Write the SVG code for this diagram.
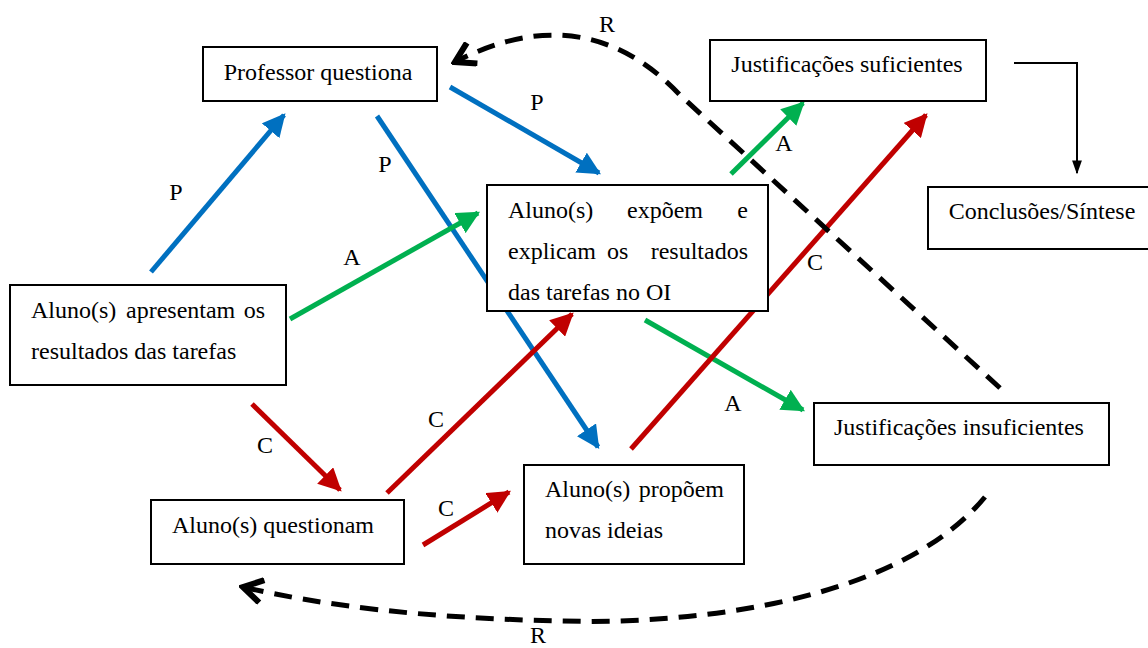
<svg xmlns="http://www.w3.org/2000/svg" width="1148" height="648" viewBox="0 0 1148 648" font-family="'Liberation Serif', 'Times New Roman', serif" font-size="24">
<style>
.box{fill:#fff;stroke:#000;stroke-width:2}
.t{font-family:'Liberation Serif','Times New Roman',serif;font-size:24px;fill:#000}
.b{stroke:#0070C0;stroke-width:5;fill:none}
.g{stroke:#00B050;stroke-width:5;fill:none}
.r{stroke:#C00000;stroke-width:5;fill:none}
.d{stroke:#000;stroke-width:5;fill:none;stroke-dasharray:18 11}
</style>
<defs>
<marker id="mb" viewBox="0 0 10 10" refX="9" refY="5" markerWidth="4.6" markerHeight="4.6" markerUnits="strokeWidth" orient="auto"><path d="M0,0 L10,5 L0,10 Z" fill="#0070C0"/></marker>
<marker id="mg" viewBox="0 0 10 10" refX="9" refY="5" markerWidth="4.6" markerHeight="4.6" markerUnits="strokeWidth" orient="auto"><path d="M0,0 L10,5 L0,10 Z" fill="#00B050"/></marker>
<marker id="mr" viewBox="0 0 10 10" refX="9" refY="5" markerWidth="4.6" markerHeight="4.6" markerUnits="strokeWidth" orient="auto"><path d="M0,0 L10,5 L0,10 Z" fill="#C00000"/></marker>
<marker id="mk" viewBox="0 0 10 10" refX="9" refY="5" markerWidth="7" markerHeight="7" markerUnits="strokeWidth" orient="auto"><path d="M0,1.5 L10,5 L0,8.5 Z" fill="#000"/></marker>
<marker id="mc" viewBox="0 0 10 10" refX="8.5" refY="5" markerWidth="5.5" markerHeight="5.5" markerUnits="strokeWidth" orient="auto"><path d="M1.5,0.8 L8.5,5 L1.5,9.2" fill="none" stroke="#000" stroke-width="2.2"/></marker>
</defs>

<g id="connectors">
<line class="b" x1="151" y1="272" x2="284" y2="115" marker-end="url(#mb)"/>
<line class="b" x1="450" y1="87" x2="599" y2="173" marker-end="url(#mb)"/>
<line class="b" x1="377" y1="116" x2="598" y2="447" marker-end="url(#mb)"/>
<line class="g" x1="290" y1="319" x2="478" y2="213" marker-end="url(#mg)"/>
<line class="g" x1="731" y1="174" x2="803" y2="103" marker-end="url(#mg)"/>
<line class="g" x1="645" y1="320" x2="803" y2="410" marker-end="url(#mg)"/>
<line class="r" x1="252" y1="404" x2="340" y2="490" marker-end="url(#mr)"/>
<line class="r" x1="387" y1="493" x2="572" y2="314" marker-end="url(#mr)"/>
<line class="r" x1="423" y1="545" x2="509" y2="492" marker-end="url(#mr)"/>
<line class="r" x1="631" y1="449" x2="926" y2="115" marker-end="url(#mr)"/>
<path d="M1014,63 L1077,63 L1077,173" fill="none" stroke="#000" stroke-width="2" marker-end="url(#mk)"/>
<path class="d" d="M1000,388 L680,95 Q585,-5 455,62" marker-end="url(#mc)"/>
<path class="d" d="M985,497 C900,600 700,625 560,621 C420,618 320,605 243,587" marker-end="url(#mc)"/>
<text class="t" x="176" y="200" text-anchor="middle">P</text>
<text class="t" x="537" y="110" text-anchor="middle">P</text>
<text class="t" x="385" y="172" text-anchor="middle">P</text>
<text class="t" x="352" y="265" text-anchor="middle">A</text>
<text class="t" x="784" y="151" text-anchor="middle">A</text>
<text class="t" x="733" y="411" text-anchor="middle">A</text>
<text class="t" x="265" y="453" text-anchor="middle">C</text>
<text class="t" x="436" y="427" text-anchor="middle">C</text>
<text class="t" x="446" y="516" text-anchor="middle">C</text>
<text class="t" x="815" y="270" text-anchor="middle">C</text>
<text class="t" x="607" y="32" text-anchor="middle">R</text>
<text class="t" x="538" y="643" text-anchor="middle">R</text>
</g>

<g id="professor">
<rect class="box" x="203" y="47" width="234" height="54"/>
<text class="t" x="318" y="80" text-anchor="middle">Professor questiona</text>
</g>
<g id="just-suf">
<rect class="box" x="710" y="40" width="276" height="61"/>
<text class="t" x="847" y="72" text-anchor="middle">Justificações suficientes</text>
</g>
<g id="conclusoes">
<rect class="box" x="928" y="187" width="222" height="62"/>
<text class="t" x="1042" y="219" text-anchor="middle">Conclusões/Síntese</text>
</g>
<g id="expoem">
<rect class="box" x="487" y="185" width="281" height="126"/>
<text class="t" x="508" y="218">Aluno(s)</text>
<text class="t" x="627" y="218">expõem</text>
<text class="t" x="748" y="218" text-anchor="end">e</text>
<text class="t" x="508" y="259">explicam</text>
<text class="t" x="607" y="259">os</text>
<text class="t" x="748" y="259" text-anchor="end">resultados</text>
<text class="t" x="508" y="300">das tarefas no OI</text>
</g>
<g id="apresentam">
<rect class="box" x="10" y="285" width="276" height="100"/>
<text class="t" x="31" y="318">Aluno(s)</text>
<text class="t" x="126" y="318">apresentam</text>
<text class="t" x="265" y="318" text-anchor="end">os</text>
<text class="t" x="31" y="359">resultados das tarefas</text>
</g>
<g id="just-insuf">
<rect class="box" x="814" y="403" width="295" height="62"/>
<text class="t" x="959" y="435" text-anchor="middle">Justificações insuficientes</text>
</g>
<g id="questionam">
<rect class="box" x="151" y="500" width="253" height="64"/>
<text class="t" x="172" y="533">Aluno(s) questionam</text>
</g>
<g id="propoem">
<rect class="box" x="524" y="465" width="220" height="99"/>
<text class="t" x="545" y="497">Aluno(s)</text>
<text class="t" x="724" y="497" text-anchor="end">propõem</text>
<text class="t" x="545" y="538">novas ideias</text>
</g>
</svg>
